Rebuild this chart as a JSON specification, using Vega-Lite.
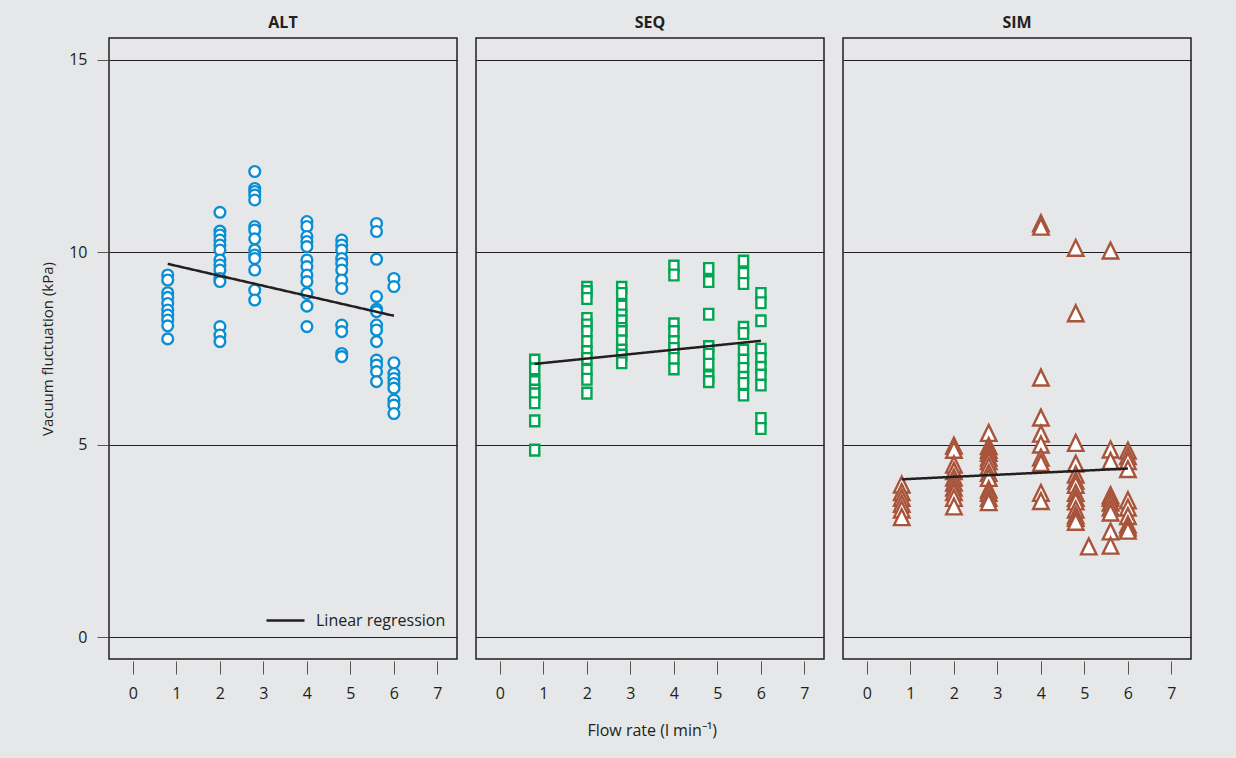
{
  "$schema": "https://vega.github.io/schema/vega-lite/v6.json",
  "background": "#e6e7e8",
  "padding": {"left": 40, "top": 15, "right": 46, "bottom": 24},
  "title": {"text": "Flow rate (l min⁻¹)", "orient": "bottom", "anchor": "middle", "fontSize": 16, "font": "Open Sans", "fontWeight": "normal", "color": "#231f20", "offset": 22, "dx": 36},
  "data": {"values": [
    {"p":"ALT","f":0.8,"v":9.41},{"p":"ALT","f":0.8,"v":9.28},{"p":"ALT","f":0.8,"v":8.95},{"p":"ALT","f":0.8,"v":8.83},{"p":"ALT","f":0.8,"v":8.67},{"p":"ALT","f":0.8,"v":8.50},{"p":"ALT","f":0.8,"v":8.37},{"p":"ALT","f":0.8,"v":8.24},{"p":"ALT","f":0.8,"v":8.09},{"p":"ALT","f":0.8,"v":7.75},
    {"p":"ALT","f":2.0,"v":11.04},{"p":"ALT","f":2.0,"v":10.55},{"p":"ALT","f":2.0,"v":10.45},{"p":"ALT","f":2.0,"v":10.32},{"p":"ALT","f":2.0,"v":10.19},{"p":"ALT","f":2.0,"v":10.06},{"p":"ALT","f":2.0,"v":9.80},{"p":"ALT","f":2.0,"v":9.67},{"p":"ALT","f":2.0,"v":9.54},{"p":"ALT","f":2.0,"v":9.32},{"p":"ALT","f":2.0,"v":9.24},{"p":"ALT","f":2.0,"v":8.07},{"p":"ALT","f":2.0,"v":7.85},{"p":"ALT","f":2.0,"v":7.68},
    {"p":"ALT","f":2.8,"v":12.10},{"p":"ALT","f":2.8,"v":11.66},{"p":"ALT","f":2.8,"v":11.58},{"p":"ALT","f":2.8,"v":11.49},{"p":"ALT","f":2.8,"v":11.36},{"p":"ALT","f":2.8,"v":10.67},{"p":"ALT","f":2.8,"v":10.58},{"p":"ALT","f":2.8,"v":10.35},{"p":"ALT","f":2.8,"v":10.06},{"p":"ALT","f":2.8,"v":9.93},{"p":"ALT","f":2.8,"v":9.84},{"p":"ALT","f":2.8,"v":9.54},{"p":"ALT","f":2.8,"v":9.02},{"p":"ALT","f":2.8,"v":8.76},
    {"p":"ALT","f":4.0,"v":10.80},{"p":"ALT","f":4.0,"v":10.67},{"p":"ALT","f":4.0,"v":10.41},{"p":"ALT","f":4.0,"v":10.28},{"p":"ALT","f":4.0,"v":10.15},{"p":"ALT","f":4.0,"v":9.80},{"p":"ALT","f":4.0,"v":9.63},{"p":"ALT","f":4.0,"v":9.41},{"p":"ALT","f":4.0,"v":9.24},{"p":"ALT","f":4.0,"v":8.93},{"p":"ALT","f":4.0,"v":8.60},{"p":"ALT","f":4.0,"v":8.07},
    {"p":"ALT","f":4.8,"v":10.32},{"p":"ALT","f":4.8,"v":10.19},{"p":"ALT","f":4.8,"v":10.06},{"p":"ALT","f":4.8,"v":9.84},{"p":"ALT","f":4.8,"v":9.71},{"p":"ALT","f":4.8,"v":9.54},{"p":"ALT","f":4.8,"v":9.28},{"p":"ALT","f":4.8,"v":9.06},{"p":"ALT","f":4.8,"v":8.11},{"p":"ALT","f":4.8,"v":7.94},{"p":"ALT","f":4.8,"v":7.37},{"p":"ALT","f":4.8,"v":7.29},
    {"p":"ALT","f":5.6,"v":10.75},{"p":"ALT","f":5.6,"v":10.54},{"p":"ALT","f":5.6,"v":9.82},{"p":"ALT","f":5.6,"v":8.85},{"p":"ALT","f":5.6,"v":8.52},{"p":"ALT","f":5.6,"v":8.46},{"p":"ALT","f":5.6,"v":8.11},{"p":"ALT","f":5.6,"v":7.98},{"p":"ALT","f":5.6,"v":7.68},{"p":"ALT","f":5.6,"v":7.20},{"p":"ALT","f":5.6,"v":7.07},{"p":"ALT","f":5.6,"v":6.90},{"p":"ALT","f":5.6,"v":6.64},
    {"p":"ALT","f":6.0,"v":9.32},{"p":"ALT","f":6.0,"v":9.11},{"p":"ALT","f":6.0,"v":7.13},{"p":"ALT","f":6.0,"v":6.85},{"p":"ALT","f":6.0,"v":6.72},{"p":"ALT","f":6.0,"v":6.59},{"p":"ALT","f":6.0,"v":6.47},{"p":"ALT","f":6.0,"v":6.16},{"p":"ALT","f":6.0,"v":6.03},{"p":"ALT","f":6.0,"v":5.81},
    {"p":"SEQ","f":0.8,"v":7.20},{"p":"SEQ","f":0.8,"v":6.97},{"p":"SEQ","f":0.8,"v":6.64},{"p":"SEQ","f":0.8,"v":6.42},{"p":"SEQ","f":0.8,"v":6.32},{"p":"SEQ","f":0.8,"v":6.09},{"p":"SEQ","f":0.8,"v":5.62},{"p":"SEQ","f":0.8,"v":4.86},
    {"p":"SEQ","f":2.0,"v":9.09},{"p":"SEQ","f":2.0,"v":8.98},{"p":"SEQ","f":2.0,"v":8.80},{"p":"SEQ","f":2.0,"v":8.28},{"p":"SEQ","f":2.0,"v":8.11},{"p":"SEQ","f":2.0,"v":7.94},{"p":"SEQ","f":2.0,"v":7.68},{"p":"SEQ","f":2.0,"v":7.42},{"p":"SEQ","f":2.0,"v":7.24},{"p":"SEQ","f":2.0,"v":6.94},{"p":"SEQ","f":2.0,"v":6.70},{"p":"SEQ","f":2.0,"v":6.34},
    {"p":"SEQ","f":2.8,"v":9.09},{"p":"SEQ","f":2.8,"v":8.93},{"p":"SEQ","f":2.8,"v":8.60},{"p":"SEQ","f":2.8,"v":8.37},{"p":"SEQ","f":2.8,"v":8.22},{"p":"SEQ","f":2.8,"v":8.02},{"p":"SEQ","f":2.8,"v":7.94},{"p":"SEQ","f":2.8,"v":7.70},{"p":"SEQ","f":2.8,"v":7.46},{"p":"SEQ","f":2.8,"v":7.33},{"p":"SEQ","f":2.8,"v":7.13},
    {"p":"SEQ","f":4.0,"v":9.64},{"p":"SEQ","f":4.0,"v":9.41},{"p":"SEQ","f":4.0,"v":8.14},{"p":"SEQ","f":4.0,"v":7.94},{"p":"SEQ","f":4.0,"v":7.68},{"p":"SEQ","f":4.0,"v":7.50},{"p":"SEQ","f":4.0,"v":7.24},{"p":"SEQ","f":4.0,"v":6.97},
    {"p":"SEQ","f":4.8,"v":9.58},{"p":"SEQ","f":4.8,"v":9.24},{"p":"SEQ","f":4.8,"v":8.39},{"p":"SEQ","f":4.8,"v":7.55},{"p":"SEQ","f":4.8,"v":7.35},{"p":"SEQ","f":4.8,"v":7.09},{"p":"SEQ","f":4.8,"v":6.77},{"p":"SEQ","f":4.8,"v":6.64},
    {"p":"SEQ","f":5.6,"v":9.77},{"p":"SEQ","f":5.6,"v":9.45},{"p":"SEQ","f":5.6,"v":9.19},{"p":"SEQ","f":5.6,"v":8.05},{"p":"SEQ","f":5.6,"v":7.89},{"p":"SEQ","f":5.6,"v":7.46},{"p":"SEQ","f":5.6,"v":7.20},{"p":"SEQ","f":5.6,"v":6.98},{"p":"SEQ","f":5.6,"v":6.75},{"p":"SEQ","f":5.6,"v":6.59},{"p":"SEQ","f":5.6,"v":6.29},
    {"p":"SEQ","f":6.0,"v":8.93},{"p":"SEQ","f":6.0,"v":8.69},{"p":"SEQ","f":6.0,"v":8.22},{"p":"SEQ","f":6.0,"v":7.48},{"p":"SEQ","f":6.0,"v":7.24},{"p":"SEQ","f":6.0,"v":7.01},{"p":"SEQ","f":6.0,"v":6.81},{"p":"SEQ","f":6.0,"v":6.55},{"p":"SEQ","f":6.0,"v":5.68},{"p":"SEQ","f":6.0,"v":5.42},
    {"p":"SIM","f":0.8,"v":3.95},{"p":"SIM","f":0.8,"v":3.75},{"p":"SIM","f":0.8,"v":3.6},{"p":"SIM","f":0.8,"v":3.45},{"p":"SIM","f":0.8,"v":3.3},{"p":"SIM","f":0.8,"v":3.1},
    {"p":"SIM","f":2.0,"v":4.96},{"p":"SIM","f":2.0,"v":4.85},{"p":"SIM","f":2.0,"v":4.47},{"p":"SIM","f":2.0,"v":4.3},{"p":"SIM","f":2.0,"v":4.13},{"p":"SIM","f":2.0,"v":4.0},{"p":"SIM","f":2.0,"v":3.87},{"p":"SIM","f":2.0,"v":3.75},{"p":"SIM","f":2.0,"v":3.6},{"p":"SIM","f":2.0,"v":3.38},
    {"p":"SIM","f":2.8,"v":5.29},{"p":"SIM","f":2.8,"v":4.95},{"p":"SIM","f":2.8,"v":4.85},{"p":"SIM","f":2.8,"v":4.77},{"p":"SIM","f":2.8,"v":4.65},{"p":"SIM","f":2.8,"v":4.56},{"p":"SIM","f":2.8,"v":4.42},{"p":"SIM","f":2.8,"v":4.25},{"p":"SIM","f":2.8,"v":4.12},{"p":"SIM","f":2.8,"v":3.82},{"p":"SIM","f":2.8,"v":3.73},{"p":"SIM","f":2.8,"v":3.6},{"p":"SIM","f":2.8,"v":3.49},
    {"p":"SIM","f":4.0,"v":10.74},{"p":"SIM","f":4.0,"v":10.65},{"p":"SIM","f":4.0,"v":6.73},{"p":"SIM","f":4.0,"v":5.69},{"p":"SIM","f":4.0,"v":5.27},{"p":"SIM","f":4.0,"v":4.99},{"p":"SIM","f":4.0,"v":4.65},{"p":"SIM","f":4.0,"v":4.51},{"p":"SIM","f":4.0,"v":3.73},{"p":"SIM","f":4.0,"v":3.52},
    {"p":"SIM","f":4.8,"v":10.1},{"p":"SIM","f":4.8,"v":8.4},{"p":"SIM","f":4.8,"v":5.03},{"p":"SIM","f":4.8,"v":4.49},{"p":"SIM","f":4.8,"v":4.21},{"p":"SIM","f":4.8,"v":4.05},{"p":"SIM","f":4.8,"v":3.94},{"p":"SIM","f":4.8,"v":3.73},{"p":"SIM","f":4.8,"v":3.6},{"p":"SIM","f":4.8,"v":3.51},{"p":"SIM","f":4.8,"v":3.3},{"p":"SIM","f":4.8,"v":3.15},{"p":"SIM","f":4.8,"v":3.08},{"p":"SIM","f":4.8,"v":2.98},
    {"p":"SIM","f":5.1,"v":2.34},
    {"p":"SIM","f":5.6,"v":10.03},{"p":"SIM","f":5.6,"v":4.86},{"p":"SIM","f":5.6,"v":4.56},{"p":"SIM","f":5.6,"v":3.67},{"p":"SIM","f":5.6,"v":3.6},{"p":"SIM","f":5.6,"v":3.48},{"p":"SIM","f":5.6,"v":3.35},{"p":"SIM","f":5.6,"v":3.22},{"p":"SIM","f":5.6,"v":2.73},{"p":"SIM","f":5.6,"v":2.36},
    {"p":"SIM","f":6.0,"v":4.83},{"p":"SIM","f":6.0,"v":4.69},{"p":"SIM","f":6.0,"v":4.56},{"p":"SIM","f":6.0,"v":4.35},{"p":"SIM","f":6.0,"v":3.54},{"p":"SIM","f":6.0,"v":3.35},{"p":"SIM","f":6.0,"v":3.13},{"p":"SIM","f":6.0,"v":2.91},{"p":"SIM","f":6.0,"v":2.83},{"p":"SIM","f":6.0,"v":2.75},
    {"p":"ALT","f":0.8,"v":9.70,"s":"Linear regression"},{"p":"ALT","f":6.0,"v":8.35,"s":"Linear regression"},
    {"p":"SEQ","f":0.8,"v":7.10,"s":"Linear regression"},{"p":"SEQ","f":6.0,"v":7.70,"s":"Linear regression"},
    {"p":"SIM","f":0.8,"v":4.10,"s":"Linear regression"},{"p":"SIM","f":6.0,"v":4.38,"s":"Linear regression"}
  ]},
  "facet": {"column": {"field": "p", "type": "nominal", "sort": ["ALT", "SEQ", "SIM"],
    "header": {"title": null, "labelFontWeight": "bold", "labelFontSize": 16, "labelFont": "Open Sans", "labelColor": "#231f20", "labelPadding": 6}}},
  "spacing": 17,
  "spec": {
    "width": 348,
    "height": 621,
    "encoding": {
      "x": {"field": "f", "type": "quantitative", "scale": {"domain": [-0.55, 7.45], "nice": false, "zero": false},
        "axis": {"title": null, "values": [0,1,2,3,4,5,6,7], "format": "d", "domain": false, "grid": false, "tickSize": 13, "tickColor": "#555555", "offset": 1, "labelPadding": 11, "labelFontSize": 16, "labelColor": "#231f20", "labelFont": "Open Sans"}},
      "y": {"field": "v", "type": "quantitative", "scale": {"domain": [-0.57, 15.57], "nice": false, "zero": false},
        "axis": {"title": "Vacuum fluctuation (kPa)", "values": [0,5,10,15], "format": "d", "domain": false, "grid": true, "gridColor": "#231f20", "gridWidth": 1, "gridOpacity": 1, "tickSize": 11, "tickColor": "#555555", "labelPadding": 10, "labelFontSize": 16, "labelColor": "#231f20", "labelFont": "Open Sans", "titleFont": "Open Sans", "titleFontSize": 15, "titleFontWeight": "normal", "titleColor": "#231f20", "titlePadding": 13}}
    },
    "layer": [
      {
        "transform": [{"filter": "!datum.s"}],
        "mark": {"type": "point", "fill": "white", "fillOpacity": 1, "strokeWidth": 2.4, "opacity": 1},
        "encoding": {
          "stroke": {"field": "p", "type": "nominal", "scale": {"domain": ["ALT", "SEQ", "SIM"], "range": ["#0b8fd4", "#00a651", "#a8543b"]}, "legend": null},
          "shape": {"field": "p", "type": "nominal", "scale": {"domain": ["ALT", "SEQ", "SIM"], "range": ["circle", "M-0.85,-1L0.85,-1L0.85,1L-0.85,1Z", "M0,-1.1L-1,0.95L1,0.95Z"]}, "legend": null},
          "size": {"field": "p", "type": "nominal", "scale": {"type": "ordinal", "domain": ["ALT", "SEQ", "SIM"], "range": [115, 115, 240]}, "legend": null}
        }
      },
      {
        "transform": [{"filter": "datum.s"}],
        "mark": {"type": "line", "color": "#231f20", "strokeWidth": 2.5},
        "encoding": {
          "strokeDash": {"field": "s", "type": "nominal", "scale": {"range": [[1, 0]]},
            "legend": {"title": null, "orient": "none", "legendX": 156, "legendY": 562, "symbolType": "stroke", "symbolStrokeColor": "#231f20", "symbolStrokeWidth": 2.5, "symbolSize": 1444, "labelFontSize": 16, "labelFont": "Open Sans", "labelColor": "#231f20", "labelOffset": 10}}
        }
      }
    ]
  },
  "config": {
    "font": "Open Sans",
    "view": {"stroke": "#231f20", "strokeWidth": 1.5}
  }
}
